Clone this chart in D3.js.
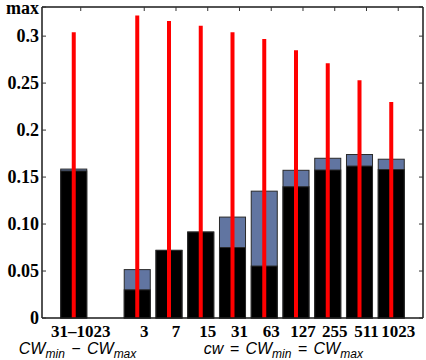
<!DOCTYPE html>
<html><head><meta charset="utf-8">
<script src="https://cdn.jsdelivr.net/npm/d3@7"></script>
<style>body{margin:0;background:#fff}svg{display:block}</style>
</head><body>
<script>
// ---- data ----
const categories = ["31\u20131023", "", "3", "7", "15", "31", "63", "127", "255", "511", "1023"];
const blackValues = [0.1565, null, 0.030, 0.072, 0.0915, 0.0750, 0.0553, 0.1397, 0.1575, 0.1617, 0.1580];
const totalValues = [0.1585, null, 0.0515, 0.0720, 0.0915, 0.1074, 0.1350, 0.1572, 0.1700, 0.1740, 0.1690];
const maxValues   = [0.304, null, 0.322, 0.316, 0.311, 0.304, 0.297, 0.285, 0.271, 0.253, 0.230];
const yTickValues = [0, 0.05, 0.10, 0.15, 0.2, 0.25, 0.3, 0.331];
const yTickLabels = ["0", "0.05", "0.10", "0.15", "0.2", "0.25", "0.3", "max"];
const yMax = 0.331;

const W = 426, H = 360;
const pL = 42, pR = 423, pT = 7, pB = 318;
const SERIF = '"Liberation Serif"';
const SANS = '"Liberation Sans"';
const svg = d3.select("body").append("svg").attr("width", W).attr("height", H);

const x = d3.scaleLinear().domain([0, categories.length + 1]).range([pL, pR]);
const y = d3.scaleLinear().domain([0, yMax]).range([pB, pT]);
const step = x(1) - x(0);
const barW = step * 0.82;
const tickPos = i => x(i + 1.22);

// bars
const idx = d3.range(categories.length).filter(i => blackValues[i] !== null);
const g = svg.append("g");
g.selectAll("rect.tot").data(idx).join("rect").attr("class", "tot")
  .attr("x", i => x(i + 1) - barW / 2).attr("width", barW)
  .attr("y", i => y(totalValues[i])).attr("height", i => y(0) - y(totalValues[i]))
  .attr("fill", "#6175a1").attr("stroke", "#2a2a2a").attr("stroke-width", 1);
g.selectAll("rect.blk").data(idx).join("rect").attr("class", "blk")
  .attr("x", i => x(i + 1) - barW / 2).attr("width", barW)
  .attr("y", i => y(blackValues[i])).attr("height", i => y(0) - y(blackValues[i]))
  .attr("fill", "#000").attr("stroke", "#2a2a2a").attr("stroke-width", 1);
g.selectAll("line.mx").data(idx).join("line").attr("class", "mx")
  .attr("x1", i => x(i + 1)).attr("x2", i => x(i + 1))
  .attr("y1", y(0)).attr("y2", i => y(maxValues[i]))
  .attr("stroke", "#ff0000").attr("stroke-width", 4);

// frame
const fr = svg.append("g").attr("stroke", "#1a1a1a").attr("fill", "none");
fr.append("line").attr("x1", pL).attr("x2", pR).attr("y1", pT).attr("y2", pT).attr("stroke-width", 1.5);
fr.append("line").attr("x1", pL).attr("x2", pR).attr("y1", pB).attr("y2", pB).attr("stroke-width", 1.5);
fr.append("line").attr("x1", pL).attr("x2", pL).attr("y1", pT).attr("y2", pB).attr("stroke-width", 1.5);
fr.append("line").attr("x1", pR).attr("x2", pR).attr("y1", pT).attr("y2", pB).attr("stroke-width", 1.5);

// y ticks (inward on both sides)
const yt = svg.append("g").attr("stroke", "#333").attr("stroke-width", 1);
yTickValues.forEach(v => {
  yt.append("line").attr("x1", pL).attr("x2", pL + 4).attr("y1", y(v)).attr("y2", y(v));
  yt.append("line").attr("x1", pR).attr("x2", pR - 4).attr("y1", y(v)).attr("y2", y(v));
});
svg.append("g").selectAll("text").data(yTickValues).join("text")
  .attr("x", pL - 3).attr("y", d => Math.max(y(d), pT + 1)).attr("dy", "0.33em")
  .attr("text-anchor", "end").attr("fill", "#000")
  .style("font-family", SERIF).style("font-weight", "bold").style("font-size", "18px")
  .text((d, i) => yTickLabels[i]);

// top ticks
const labeled = d3.range(categories.length).filter(i => categories[i] !== "");
svg.append("g").selectAll("line").data(labeled).join("line")
  .attr("x1", i => tickPos(i)).attr("x2", i => tickPos(i))
  .attr("y1", pT).attr("y2", pT + 4).attr("stroke", "#333").attr("stroke-width", 1);

// x labels
svg.append("g").selectAll("text").data(labeled).join("text")
  .attr("x", i => tickPos(i)).attr("y", 337)
  .attr("text-anchor", "middle").attr("fill", "#000")
  .style("font-family", SERIF).style("font-weight", "bold").style("font-size", "17px")
  .text(i => categories[i]);

// group labels
function groupLabel(cx, parts) {
  const t = svg.append("text").attr("x", cx).attr("y", 354).attr("text-anchor", "middle")
    .attr("fill", "#000")
    .style("font-family", SANS).style("font-style", "italic").style("font-size", "16px");
  parts.forEach(p => {
    const ts = t.append("tspan").text(p.t);
    if (p.sub) ts.style("font-size", "12px").attr("dy", 4);
    if (p.up) ts.attr("dy", -4);
  });
}
groupLabel(x(1.12), [
  {t: "CW"}, {t: "min", sub: true}, {t: "\u2009\u2009\u2212\u2009\u2009", up: true}, {t: "CW"}, {t: "max", sub: true}
]);
groupLabel(x(7.6), [
  {t: "cw\u2009\u2009=\u2009\u2009"}, {t: "CW"}, {t: "min", sub: true}, {t: "\u2009\u2009=\u2009\u2009", up: true}, {t: "CW"}, {t: "max", sub: true}
]);
</script>
</body></html>
